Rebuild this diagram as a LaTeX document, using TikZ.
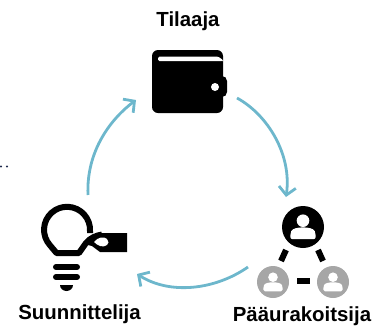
\documentclass[tikz,border=0pt]{standalone}
\usepackage{fontspec}
\setmainfont{Liberation Sans}
\usetikzlibrary{arrows.meta}
\definecolor{cyc}{HTML}{6DB7CC}
\definecolor{grayp}{HTML}{A6A6A6}
\definecolor{navy}{HTML}{1F2A4D}
\tikzset{
 lbl/.style={font=\fontsize{20.4}{22}\bfseries\selectfont,text=black,inner sep=0pt,anchor=base},
 cycle/.style={draw=cyc,line width=2.8pt,-{Straight Barb[length=8pt,width=17pt,line width=2.8pt]}},
 link/.style={draw=black,line width=6pt},
}
\newcommand{\persona}[4]{% x y scale bg
 \fill[#4] (#1,#2) circle (#3);
 \fill[white] (#1,#2-0.3*#3) circle (0.3*#3);
 \fill[white,rounded corners=0.1*#3] (#1-0.6*#3,#2+0.58*#3) -- (#1-0.6*#3,#2+0.28*#3) .. controls (#1-0.45*#3,#2-0.04*#3) and (#1+0.45*#3,#2-0.04*#3) .. (#1+0.6*#3,#2+0.28*#3) -- (#1+0.6*#3,#2+0.58*#3) -- cycle;
}
\begin{document}
\begin{tikzpicture}[x=1pt,y=-1pt]
\useasboundingbox (0,0) rectangle (375,325);
% labels
\node[lbl] (tilaaja) at (188,26) {Tilaaja};
\node[lbl] (suun) at (79.5,319) {Suunnittelija};
\node[lbl] (paa) at (302,321) {Pääurakoitsija};
% stray dots
\fill[navy] (1,166.5) circle (1.2);
\fill[navy] (7,166.5) circle (1.2);
% wallet
\fill[black,rounded corners=5pt] (210,76) rectangle (227,97);
\fill[black,rounded corners=6pt] (152,50) rectangle (223,113);
\fill[white,rounded corners=1.5pt] (158,56.5) -- (218,56.5) -- (223,60) -- (223,61) -- (158,61) -- cycle;
\fill[white] (215,87) circle (4);
% bulb
\draw[black,line width=6pt,line join=round]
  (90,233) -- (90,231) arc[start angle=3,end angle=-222,radius=23]  -- (56.5,253) -- (79,253) -- (86,243) .. controls (90,238) and (96,235.5) .. (102,234.5);
\fill[black] (100,233) -- (127,233) -- (127,252) -- (100,252) -- (92,246) -- (84,244) -- cycle;
\fill[white] (94,242) .. controls (98,237) and (104,236) .. (107,239) .. controls (109,241) and (109,244) .. (107,245) .. controls (103,248) and (98,246) .. (94,242) -- cycle;
\draw[black,line width=6pt,line cap=round] (56,267) -- (77,267) (56,277) -- (77,277);
\fill[black] (60,285) -- (73,285) arc[start angle=0,end angle=180,x radius=6.5,y radius=6] -- cycle;
% people
\persona{303}{227}{21}{black}
\persona{273}{282}{16}{grayp}
\persona{333}{282}{16}{grayp}
\coordinate (la) at (286,250); \coordinate (lb) at (281,261);
\coordinate (ra) at (318,250); \coordinate (rb) at (323,261);
\coordinate (ma) at (297,281); \coordinate (mb) at (310,281);
\draw[link] (la) -- (lb);
\draw[link] (ra) -- (rb);
\draw[link] (ma) -- (mb);
% cycle arrows
\coordinate (a1) at (88,195); \coordinate (a2) at (136,100);
\coordinate (b1) at (237,98); \coordinate (b2) at (286,197);
\coordinate (c1) at (248,267); \coordinate (c2) at (137,274);
\draw[cycle] (a1) .. controls (86,150) and (112,118) .. (a2);
\draw[cycle] (b1) .. controls (268,115) and (292,155) .. (b2);
\draw[cycle] (c1) .. controls (215,290) and (170,295) .. (c2);
\end{tikzpicture}
\end{document}
